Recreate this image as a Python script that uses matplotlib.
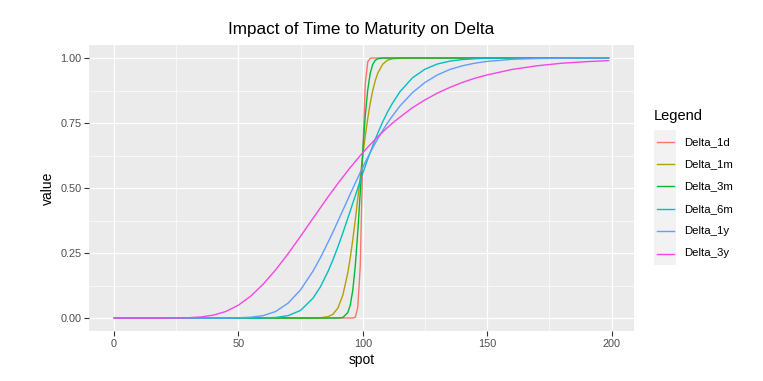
import matplotlib.pyplot as plt
from matplotlib.lines import Line2D
from matplotlib.patches import Rectangle

plt.rcParams['font.family'] = ['Liberation Sans', 'DejaVu Sans']

# %% data
spot = [0, 10, 20, 30, 35, 40, 45, 50, 55, 60,
        65, 70, 75, 80, 83, 86, 88, 90, 92, 94,
        95, 96, 97, 98, 99, 100, 101, 102, 103, 104,
        105, 106, 108, 110, 112, 115, 120, 125, 130, 135,
        140, 145, 150, 160, 170, 180, 190, 199]

delta_1d = [0, 0, 0, 0, 0, 0, 0, 0, 0, 0,
            0, 0, 0, 0, 0, 0, 0, 0, 0, 0,
            0, 0, 0.003, 0.04, 0.2, 0.62, 0.9, 0.985, 0.999, 1.0,
            1, 1, 1, 1, 1, 1, 1, 1, 1, 1,
            1, 1, 1, 1, 1, 1, 1, 1]

delta_1m = [0, 0, 0, 0, 0, 0, 0, 0, 0, 0,
            0, 0, 0, 0, 0.001, 0.005, 0.014, 0.038, 0.088, 0.174,
            0.233, 0.301, 0.377, 0.459, 0.541, 0.623, 0.699, 0.767, 0.826, 0.874,
            0.912, 0.941, 0.976, 0.992, 0.997, 0.999, 1, 1, 1, 1,
            1, 1, 1, 1, 1, 1, 1, 1]

delta_3m = [0, 0, 0, 0, 0, 0, 0, 0, 0, 0,
            0, 0, 0, 0, 0, 0, 0, 0, 0.002, 0.021,
            0.050, 0.107, 0.200, 0.330, 0.484, 0.641, 0.776, 0.877, 0.941, 0.975,
            0.991, 0.997, 1, 1, 1, 1, 1, 1, 1, 1,
            1, 1, 1, 1, 1, 1, 1, 1]

delta_6m = [0, 0, 0, 0, 0, 0, 0, 0, 0, 0.0003,
            0.002, 0.009, 0.029, 0.076, 0.120, 0.178, 0.223, 0.273, 0.327, 0.384,
            0.412, 0.442, 0.470, 0.499, 0.528, 0.556, 0.584, 0.611, 0.637, 0.662,
            0.687, 0.710, 0.754, 0.793, 0.827, 0.871, 0.924, 0.957, 0.977, 0.988,
            0.994, 0.997, 0.999, 1, 1, 1, 1, 1]

delta_1y = [0, 0, 0, 0, 0, 0, 0, 0.001, 0.003, 0.009,
            0.025, 0.057, 0.108, 0.180, 0.232, 0.290, 0.330, 0.372, 0.414, 0.456,
            0.478, 0.498, 0.519, 0.539, 0.560, 0.579, 0.599, 0.618, 0.636, 0.654,
            0.672, 0.689, 0.721, 0.751, 0.778, 0.816, 0.867, 0.906, 0.935, 0.956,
            0.970, 0.980, 0.987, 0.995, 0.998, 0.999, 1, 1]

delta_3y = [0, 0, 0, 0.001, 0.004, 0.011, 0.025, 0.049, 0.084, 0.130,
            0.185, 0.247, 0.314, 0.383, 0.424, 0.465, 0.491, 0.517, 0.542, 0.567,
            0.579, 0.590, 0.602, 0.613, 0.625, 0.636, 0.646, 0.657, 0.667, 0.677,
            0.687, 0.697, 0.715, 0.733, 0.750, 0.773, 0.809, 0.839, 0.865, 0.887,
            0.906, 0.922, 0.935, 0.956, 0.970, 0.980, 0.986, 0.990]

labels = ['Delta_1d', 'Delta_1m', 'Delta_3m', 'Delta_6m', 'Delta_1y', 'Delta_3y']
series = [delta_1d, delta_1m, delta_3m, delta_6m, delta_1y, delta_3y]
colors = ['#F8766D', '#B79F00', '#00BA38', '#00BFC4', '#619CFF', '#F545E3']

W, H = 763, 381
def fx(x):
    return x / W
def fy(y):
    return 1 - y / H

# %% main plot
fig = plt.figure(figsize=(W / 100, H / 100), dpi=100)
ax = fig.add_axes([fx(89), fy(331), (634 - 89) / W, (331 - 45) / H])
ax.set_facecolor('#EBEBEB')

for lab, vals, col in zip(labels, series, colors):
    ax.plot(spot, vals, color=col, lw=1.0, label=lab, solid_capstyle='butt')

ax.set_xlim(-9.95, 208.95)
ax.set_ylim(-0.05, 1.05)
ax.set_xticks([0, 50, 100, 150, 200])
ax.set_xticks([25, 75, 125, 175], minor=True)
ax.set_yticks([0, 0.25, 0.5, 0.75, 1.0])
ax.set_yticklabels(['0.00', '0.25', '0.50', '0.75', '1.00'])
ax.set_yticks([0.125, 0.375, 0.625, 0.875], minor=True)
ax.grid(which='major', color='white', lw=0.9)
ax.grid(which='minor', color='white', lw=0.45)
ax.set_axisbelow(True)
for s in ax.spines.values():
    s.set_visible(False)
ax.tick_params(which='major', length=3.5, width=0.8, color='#333333',
               labelcolor='#4D4D4D', labelsize=7.8, pad=2)
ax.tick_params(which='minor', length=0)

ax.set_xlabel('spot', fontsize=10, labelpad=3)
ax.set_ylabel('value', fontsize=10, labelpad=4)
ax.set_title('Impact of Time to Maturity on Delta', fontsize=12.3, pad=8)

# %% legend
fig.text(fx(654), fy(116), 'Legend', fontsize=10.5, va='center', ha='left')
fig.add_artist(Rectangle((fx(654), fy(265)), 22 / W, 135 / H,
                         transform=fig.transFigure, facecolor='#F2F2F2',
                         edgecolor='none'))
row_y = [142, 164, 186.5, 209, 231, 253.5]
for lab, col, y in zip(labels, colors, row_y):
    fig.add_artist(Line2D([fx(657), fx(674)], [fy(y), fy(y)],
                          transform=fig.transFigure, color=col, lw=1.0))
    fig.text(fx(684), fy(y), lab, fontsize=8.2, va='center', ha='left')

fig.savefig('out.png', dpi=100)
